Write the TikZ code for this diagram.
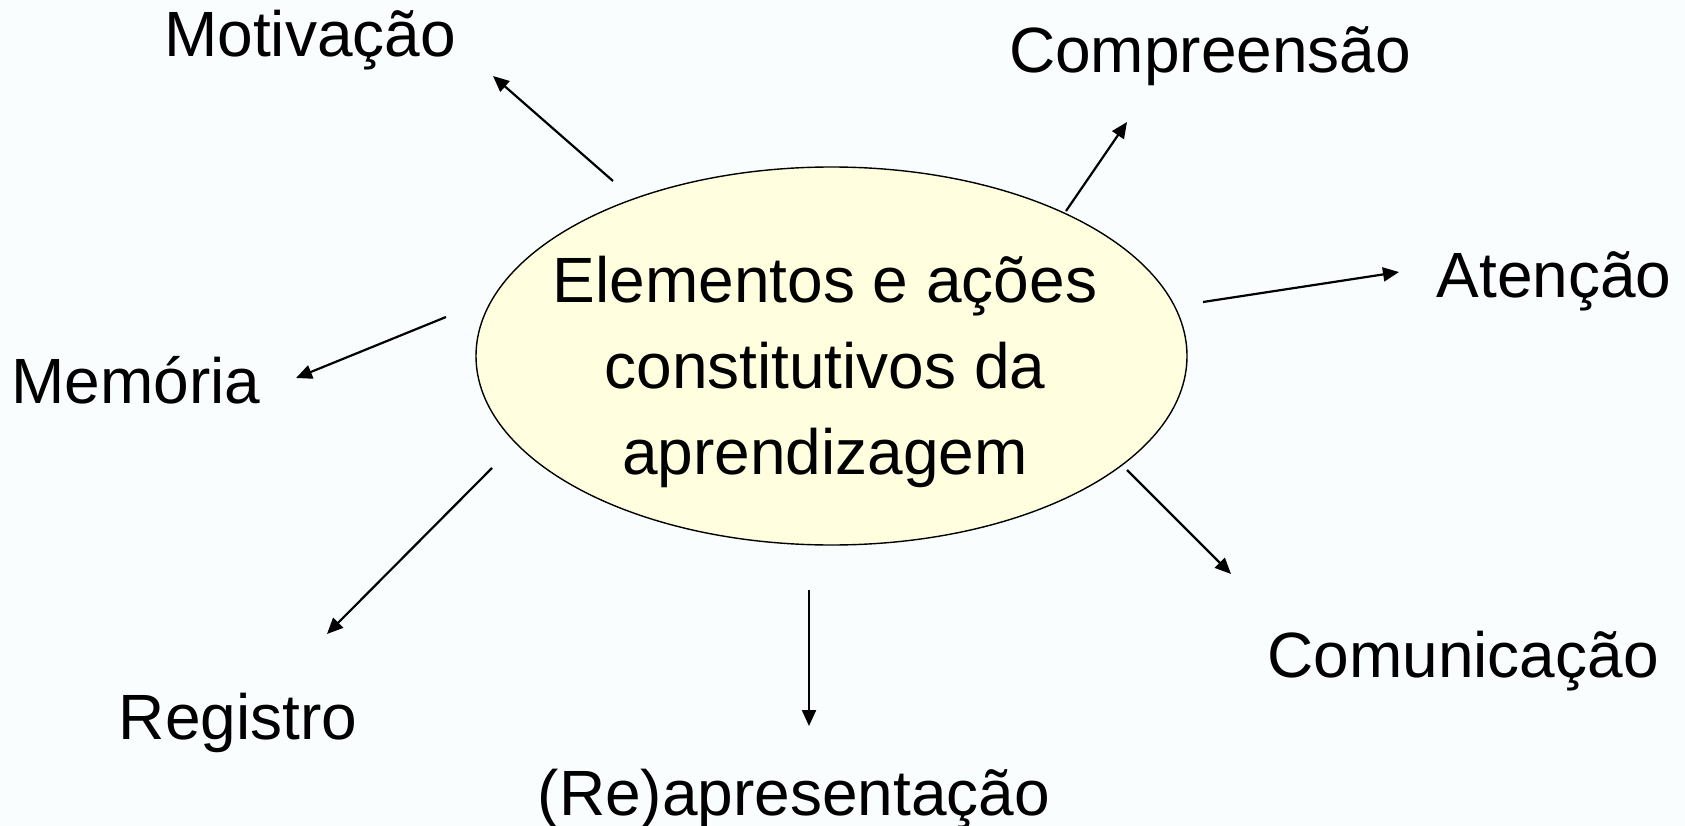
\documentclass[tikz,border=0pt]{standalone}
\usepackage{fontspec}
\setmainfont{Liberation Sans}
\usetikzlibrary{shapes.geometric,arrows.meta}
\definecolor{fundo}{HTML}{F9FDFE}
\definecolor{amarelo}{HTML}{FFFFE0}

\begin{document}
\begin{tikzpicture}[x=1pt, y=-1pt,
    rotulo/.style={anchor=base, inner sep=0pt, font=\fontsize{64}{76}\selectfont},
    seta/.style={line width=2.2pt, -{Triangle[length=16pt,width=14pt]}}]
            \fill[fundo] (0,0) rectangle (1685,826);
            \useasboundingbox (0,0) rectangle (1685,826);
            \node[ellipse, draw, line width=1.4pt, fill=amarelo,
                minimum width=711pt, minimum height=378pt, inner sep=0pt]
                (centro) at (831.5,356) {};
            \node[align=center, inner sep=0pt, font=\fontsize{64}{86}\selectfont]
                (texto) at (825,372) {Elementos e ações\\constitutivos da\\aprendizagem};
            % rotulos
            \node[rotulo] (motivacao) at (310,57) {Motivação};
            \node[rotulo] (compreensao) at (1210,73) {Compreensão};
            \node[rotulo] (atencao) at (1554,297) {Atenção};
            \node[rotulo] (memoria) at (136,403) {Memória};
            \node[rotulo] (registro) at (238,739) {Registro};
            \node[rotulo] (reapresentacao) at (794,815) {(Re)apresentação};
            \node[rotulo] (comunicacao) at (1463,677) {Comunicação};
            % pontas das setas
            \coordinate (mot-a) at (613,181);  \coordinate (mot-b) at (493,76);
            \coordinate (com-a) at (1066,211); \coordinate (com-b) at (1127,122);
            \coordinate (ate-a) at (1203,302); \coordinate (ate-b) at (1399,272);
            \coordinate (mem-a) at (446,317);  \coordinate (mem-b) at (296,378);
            \coordinate (reg-a) at (492,468);  \coordinate (reg-b) at (327,634);
            \coordinate (rea-a) at (809,590);  \coordinate (rea-b) at (809,726);
            \coordinate (cmu-a) at (1127,470); \coordinate (cmu-b) at (1231,574);
            \draw[seta] (mot-a) -- (mot-b);
            \draw[seta] (com-a) -- (com-b);
            \draw[seta] (ate-a) -- (ate-b);
            \draw[seta] (mem-a) -- (mem-b);
            \draw[seta] (reg-a) -- (reg-b);
            \draw[seta] (rea-a) -- (rea-b);
            \draw[seta] (cmu-a) -- (cmu-b);
        \end{tikzpicture}
\end{document}
